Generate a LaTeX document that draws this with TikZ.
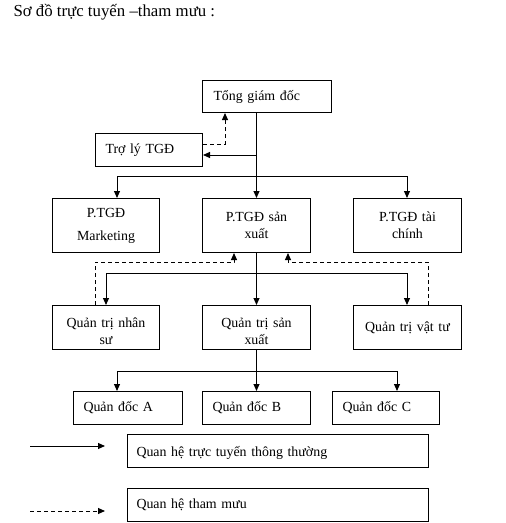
\documentclass[tikz,border=0pt]{standalone}
\usepackage{fontspec}
\setmainfont{Liberation Serif}
\usetikzlibrary{arrows.meta,calc}
\begin{document}
\begin{tikzpicture}[x=1pt,y=-1pt,
  font=\fontsize{13.9}{17}\selectfont,
  box/.style={draw, line width=1pt, inner ysep=0pt, anchor=north west},
  cbox/.style={box, inner xsep=0pt, align=center},
  lbox/.style={box, inner xsep=10pt, align=left},
  arr/.style={-{Triangle[length=7pt,width=6pt]}, line width=1pt},
  dsh/.style={arr, dash pattern=on 4pt off 3pt}]
\useasboundingbox (0,0) rectangle (506,523);

\node[anchor=base west, font=\fontsize{16.8}{19}\selectfont] (title) at (10,16) {Sơ đồ trực tuyến –tham mưu :};

% row 1
\node[lbox, inner xsep=11pt, text width=107pt, minimum height=32pt] (tgd) at (202,80) {Tổng giám đốc};
\node[lbox, text width=87pt, minimum height=33pt] (tly) at (95,133) {Trợ lý TGĐ};

% row 2
\node[cbox, text width=107pt, minimum height=54pt] (pmk) at (52,198) {P.TGĐ\\[6pt]Marketing};
\node[cbox, text width=108pt, minimum height=54pt] (psx) at (202,198) {P.TGĐ sản\\xuất};
\node[cbox, text width=108pt, minimum height=54pt] (ptc) at (353,198) {P.TGĐ tài\\chính};

% row 3
\node[cbox, text width=107pt, minimum height=44pt] (qns) at (52,305) {\rule{0pt}{18pt}Quản trị nhân\\sư};
\node[cbox, text width=108pt, minimum height=44pt] (qsx) at (202,305) {\rule{0pt}{18pt}Quản trị sản\\xuất};
\node[cbox, text width=108pt, minimum height=44pt] (qvt) at (353,305) {Quản trị vật tư};

% row 4
\node[lbox, text width=89pt, minimum height=33pt] (qda) at (73,391) {Quản đốc A};
\node[lbox, text width=88pt, minimum height=33pt] (qdb) at (202,391) {Quản đốc B};
\node[lbox, text width=87pt, minimum height=33pt] (qdc) at (332,391) {Quản đốc C};

% legend
\node[lbox, inner xsep=9pt, text width=283pt, minimum height=33pt] (leg1) at (127,434) {\rule{0pt}{14pt}Quan hệ trực tuyến thông thường};
\node[lbox, inner xsep=9pt, text width=283pt, minimum height=33pt] (leg2) at (127,488) {Quan hệ tham mưu};

% coordinates
\coordinate (j1) at (256,155);
\coordinate (d1) at (225,144);
\coordinate (b1) at (117,176);
\coordinate (b2) at (407,176);
\coordinate (c1) at (106,273);
\coordinate (c2) at (407,273);
\coordinate (e1) at (234,262);
\coordinate (e2) at (288,262);
\coordinate (f1) at (95,262);
\coordinate (f2) at (428,262);
\coordinate (g1) at (117,371);
\coordinate (g2) at (397,371);
\coordinate (l1s) at (30,446);
\coordinate (l1e) at (105,446);
\coordinate (l2s) at (30,511);
\coordinate (l2e) at (105,511);

% row1 -> row2
\draw[arr] (tgd.south -| psx.north) -- (psx.north);
\draw[arr] (j1) -- (j1 -| tly.east);
\draw[dsh] (d1 -| tly.east) -- (d1) -- (d1 |- tgd.south);
\draw[line width=1pt] (b1) -- (b2);
\draw[arr] (b1) -- (b1 |- pmk.north);
\draw[arr] (b2) -- (b2 |- ptc.north);

% row2 -> row3
\draw[arr] (psx.south) -- (qsx.north);
\draw[line width=1pt] (c1) -- (c2);
\draw[arr] (c1) -- (c1 |- qns.north);
\draw[arr] (c2) -- (c2 |- qvt.north);
\draw[dsh] (f1 |- qns.north) -- (f1) -- (e1) -- (e1 |- psx.south);
\draw[dsh] (f2 |- qvt.north) -- (f2) -- (e2) -- (e2 |- psx.south);

% row3 -> row4
\draw[arr] (qsx.south) -- (qdb.north);
\draw[line width=1pt] (g1) -- (g2);
\draw[arr] (g1) -- (g1 |- qda.north);
\draw[arr] (g2) -- (g2 |- qdc.north);

% legend arrows
\draw[arr] (l1s) -- (l1e);
\draw[dsh] (l2s) -- (l2e);
\end{tikzpicture}
\end{document}
